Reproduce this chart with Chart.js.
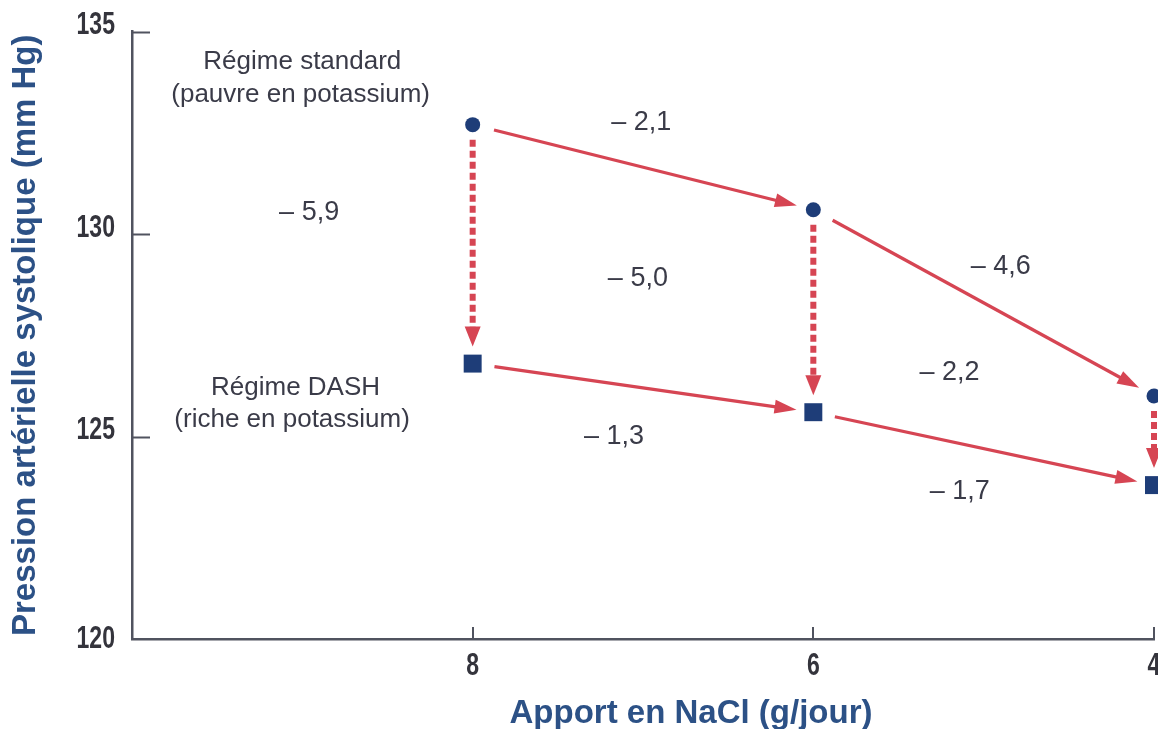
<!DOCTYPE html>
<html><head><meta charset="utf-8">
<script src="https://cdn.jsdelivr.net/npm/chart.js@4.4.1/dist/chart.umd.min.js"></script>
<style>html,body{margin:0;padding:0;background:#fff;overflow:hidden}</style>
</head><body>
<canvas id="c" width="1158" height="729"></canvas>
<script>
// ---- data ----
const saltIntake = [8, 6, 4];                 // g/jour
const standardDiet = [132.7, 130.6, 126.0];   // mm Hg
const dashDiet = [126.8, 125.6, 123.8];       // mm Hg
const yTickValues = [120, 125, 130, 135];
const xTickValues = [8, 6, 4];
const seriesNames = ['Régime standard (pauvre en potassium)', 'Régime DASH (riche en potassium)'];
// annotation texts with their anchor in data units [x (g/jour), y (mm Hg)]
const noteTexts = ['Régime standard', '(pauvre en potassium)', 'Régime DASH', '(riche en potassium)',
                   '– 5,9', '– 2,1', '– 5,0', '– 1,3', '– 4,6', '– 2,2', '– 1,7'];
const noteX = [9.0, 9.01, 9.04, 9.06, 8.96, 7.01, 7.03, 7.17, 4.90, 5.20, 5.14];
const noteY = [134.25, 133.43, 126.2, 125.41, 130.54, 132.74, 128.91, 124.99, 129.19, 126.59, 123.65];
const xTitle = 'Apport en NaCl (g/jour)';
const yTitle = 'Pression artérielle systolique (mm Hg)';

const RED = '#d64553';
const NAVY = '#1e3d78';
const TXT = '#3a3b48';
const TICKTXT = '#34343c';
const TITLE = '#2c5186';
const AXIS = '#50535f';

function arrow(ctx, x1, y1, x2, y2, o) {
  const a = Math.atan2(y2 - y1, x2 - x1), ux = Math.cos(a), uy = Math.sin(a);
  const sx = x1 + ux * o.startGap, sy = y1 + uy * o.startGap;
  const tx = x2 - ux * o.endGap, ty = y2 - uy * o.endGap;
  const bx = tx - ux * o.headLen, by = ty - uy * o.headLen;
  ctx.save();
  ctx.strokeStyle = o.color; ctx.lineWidth = o.width; ctx.setLineDash(o.dash || []);
  ctx.beginPath(); ctx.moveTo(sx, sy); ctx.lineTo(bx + ux, by + uy); ctx.stroke();
  ctx.setLineDash([]);
  ctx.fillStyle = o.color;
  ctx.beginPath(); ctx.moveTo(tx, ty);
  ctx.lineTo(bx - uy * o.headW, by + ux * o.headW);
  ctx.lineTo(bx + uy * o.headW, by - ux * o.headW);
  ctx.closePath(); ctx.fill();
  ctx.restore();
}

function condensedText(ctx, text, x, y, align, sx) {
  ctx.save();
  ctx.translate(x, y); ctx.scale(sx, 1);
  ctx.textAlign = align; ctx.textBaseline = 'middle';
  ctx.fillText(text, 0, 0);
  ctx.restore();
}

const decor = {
  id: 'decor',
  beforeDatasetsDraw(chart) {
    const ctx = chart.ctx, xs = chart.scales.x, ys = chart.scales.y;
    const solid = {color: RED, width: 3.2, startGap: 22, endGap: 17, headLen: 22, headW: 7};
    const dashed = {color: RED, width: 6, dash: [7, 4], startGap: 15, endGap: 17, headLen: 20, headW: 8};
    [standardDiet, dashDiet].forEach(s => {
      for (let i = 0; i < saltIntake.length - 1; i++) {
        arrow(ctx, xs.getPixelForValue(saltIntake[i]), ys.getPixelForValue(s[i]),
                   xs.getPixelForValue(saltIntake[i + 1]), ys.getPixelForValue(s[i + 1]), solid);
      }
    });
    for (let i = 0; i < saltIntake.length; i++) {
      const px = xs.getPixelForValue(saltIntake[i]);
      arrow(ctx, px, ys.getPixelForValue(standardDiet[i]), px, ys.getPixelForValue(dashDiet[i]), dashed);
    }
  },
  afterDraw(chart) {
    const ctx = chart.ctx, xs = chart.scales.x, ys = chart.scales.y, ca = chart.chartArea;
    ctx.save();
    // inward ticks
    ctx.strokeStyle = AXIS; ctx.lineWidth = 2;
    ys.ticks.forEach(t => {
      if (t.value === ys.min) return;
      const py = Math.round(ys.getPixelForValue(t.value)) + 0.5;
      ctx.beginPath(); ctx.moveTo(ca.left, py); ctx.lineTo(ca.left + 18, py); ctx.stroke();
    });
    xs.ticks.forEach(t => {
      const px = Math.round(xs.getPixelForValue(t.value));
      ctx.beginPath(); ctx.moveTo(px, ca.bottom); ctx.lineTo(px, ca.bottom - 12); ctx.stroke();
    });
    // tick labels (condensed bold)
    ctx.fillStyle = TICKTXT; ctx.font = 'bold 32px "Liberation Sans", Arial, sans-serif';
    ys.ticks.forEach(t => {
      const py = ys.getPixelForValue(t.value) + (t.value === ys.min ? 0 : -6);
      condensedText(ctx, String(t.value), ca.left - 17, py, 'right', 0.72);
    });
    xs.ticks.forEach(t => {
      condensedText(ctx, String(t.value), xs.getPixelForValue(t.value), ca.bottom + 27, 'center', 0.72);
    });
    // annotations
    ctx.fillStyle = TXT; ctx.textAlign = 'center'; ctx.textBaseline = 'middle';
    noteTexts.forEach((t, i) => {
      ctx.font = (i < 4 ? '26px' : '27px') + ' "Liberation Sans", Arial, sans-serif';
      ctx.fillText(t, xs.getPixelForValue(noteX[i]), ys.getPixelForValue(noteY[i]));
    });
    // x title
    ctx.fillStyle = TITLE; ctx.font = 'bold 33px "Liberation Sans", Arial, sans-serif';
    ctx.textBaseline = 'alphabetic';
    ctx.fillText(xTitle, xs.getPixelForValue(7.0) + 48, chart.height - 6);
    ctx.restore();
  }
};

new Chart(document.getElementById('c'), {
  type: 'line',
  data: {
    datasets: [
      {label: seriesNames[0], data: saltIntake.map((x, i) => ({x, y: standardDiet[i]})),
       showLine: false, pointStyle: 'circle', pointRadius: 7.5, pointBackgroundColor: NAVY,
       pointBorderColor: NAVY, pointBorderWidth: 0, clip: false},
      {label: seriesNames[1], data: saltIntake.map((x, i) => ({x, y: dashDiet[i]})),
       showLine: false, pointStyle: 'rect', pointRadius: 12.7, pointBackgroundColor: NAVY,
       pointBorderColor: NAVY, pointBorderWidth: 0, clip: false}
    ]
  },
  options: {
    responsive: false, animation: false, devicePixelRatio: 1,
    layout: {autoPadding: false, padding: {top: 31.5, right: 4, bottom: 0, left: 0}},
    plugins: {legend: {display: false}, tooltip: {enabled: false}},
    scales: {
      x: {
        type: 'linear', min: 4, max: 10, reverse: true,
        afterBuildTicks: s => { s.ticks = xTickValues.map(v => ({value: v})); },
        afterFit: s => { s.height = 90; s.paddingLeft = 0; s.paddingRight = 0; },
        grid: {display: false, drawTicks: false},
        border: {display: true, color: AXIS, width: 2.5},
        ticks: {display: false},
        title: {display: false}
      },
      y: {
        type: 'linear', min: 120, max: 135,
        afterBuildTicks: s => { s.ticks = yTickValues.map(v => ({value: v})); },
        afterFit: s => { s.width = 132; s.paddingTop = 0; s.paddingBottom = 0; },
        grid: {display: false, drawTicks: false},
        border: {display: true, color: AXIS, width: 2.5},
        ticks: {display: false},
        title: {display: true, text: yTitle, color: TITLE, padding: {top: 5.8, bottom: 0},
                font: {family: '"Liberation Sans", Arial, sans-serif', weight: 'bold', size: 33}}
      }
    }
  },
  plugins: [decor]
});
</script>
</body></html>
